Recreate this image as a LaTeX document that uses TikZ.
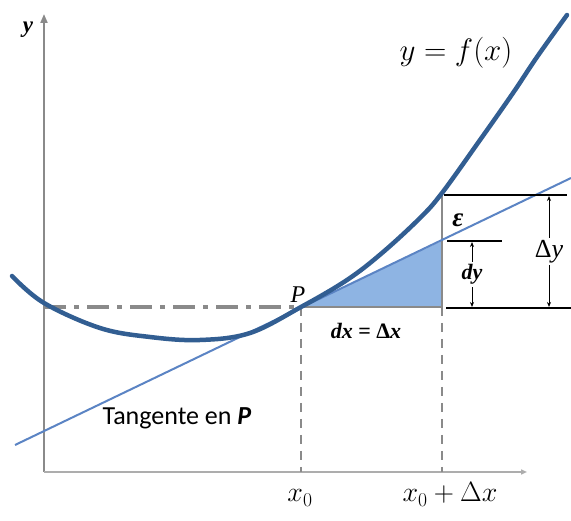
\RequirePackage{fix-cm}
\documentclass[tikz,border=0pt]{standalone}
\usepackage{fontspec}
\setmainfont{Carlito}
\newfontfamily\tnr{Liberation Serif}
\usetikzlibrary{arrows.meta}
\definecolor{curveblue}{HTML}{325E92}
\definecolor{tanblue}{HTML}{5B84C4}
\definecolor{fillblue}{HTML}{8EB4E3}
\definecolor{axisgray}{HTML}{8A8A8A}
\tikzset{
  axisline/.style={draw=axisgray, line width=2pt},
  guide/.style={draw=axisgray, line width=2pt, dash pattern=on 9pt off 7pt},
  dashdot/.style={draw=axisgray, line width=3.5pt, dash pattern=on 22pt off 8pt on 5pt off 8pt},
  blackline/.style={draw=black, line width=2pt},
  dimarrow/.style={draw=black, line width=0.8pt, {Stealth[length=5pt,width=4pt]}-{Stealth[length=5pt,width=4pt]}},
  lbl/.style={inner sep=1pt},
}
\begin{document}
\begin{tikzpicture}[x=1pt,y=-1pt]
\path[use as bounding box, fill=white] (0,0) rectangle (571,521);
% key coordinates
\coordinate (O) at (44,472);
\coordinate (ytop) at (44,14);
\coordinate (xend) at (527,472);
\coordinate (P) at (301,307);
\coordinate (Q) at (442,307);
\coordinate (T) at (442,241);
\coordinate (F) at (442,195);
\coordinate (yleft) at (44,307);
\coordinate (x0b) at (301,472);
\coordinate (x1b) at (442,472);
\coordinate (tanA) at (15,445);
\coordinate (tanB) at (571,178);
% axes
\draw[axisline, -{Triangle[length=9pt,width=7pt]}] (O) -- (ytop);
\draw[draw=axisgray!70, line width=1.5pt, -{Triangle[length=6pt,width=5pt]}] (O) -- (xend);
% guides
\draw[dashdot] (yleft) -- (P);
\draw[guide] (P) -- (x0b);
\draw[guide] (Q) -- (x1b);
% triangle
\fill[fillblue] (P) -- (Q) -- (T) -- cycle;
\draw[axisline, line width=2.5pt] (P) -- (Q);
\draw[axisline, line width=2.5pt] (Q) -- (F);
% tangent
\draw[tanblue, line width=2pt] (tanA) -- (tanB);
% curve
\draw[curveblue, line width=4.5pt, line cap=round] plot[smooth, tension=0.6] coordinates {
 (12,276) (44,303) (100,328) (150,337) (200,340) (250,333) (301,307) (347,280)
 (382,253) (420,218) (442,193) (480,140) (513,93) (537,57) (567,15)};
% black reference lines
\coordinate (l1a) at (444,195); \coordinate (l1b) at (567,195);
\coordinate (l2a) at (447,241); \coordinate (l2b) at (502,241);
\coordinate (l3a) at (446,308); \coordinate (l3b) at (571,308);
\draw[blackline] (l1a) -- (l1b);
\draw[blackline] (l2a) -- (l2b);
\draw[blackline] (l3a) -- (l3b);
\coordinate (dyt) at (472,242); \coordinate (dyb) at (472,307);
\coordinate (Dyt) at (549,196); \coordinate (Dyb) at (549,307);
\draw[dimarrow] (dyt) -- node[lbl, fill=white, inner ysep=2pt] (dylab) {\tnr\fontsize{22}{24}\selectfont\bfseries\itshape dy} (dyb);
\draw[dimarrow] (Dyt) -- node[lbl, fill=white, inner ysep=2pt] (Dylab) {\tnr\fontsize{26}{28}\selectfont Δ\itshape y} (Dyb);
% labels
\node[lbl] (ylab) at (28,30) {\tnr\fontsize{23}{25}\selectfont\bfseries\itshape y};
\node[lbl] (flab) at (456,53) {\fontsize{31}{36}\selectfont $y=f(x)$};
\node[lbl] (eps) at (458,220) {\tnr\fontsize{27}{29}\selectfont\bfseries\itshape ε};
\node[lbl] (Plab) at (298,295) {\tnr\fontsize{24}{26}\selectfont\itshape P};
\node[lbl] (dxlab) at (366,331) {\tnr\fontsize{22}{24}\selectfont\bfseries\itshape dx {\upshape =} {\upshape Δ}x};
\node[lbl, anchor=base] (tanlab) at (177,425) {\fontsize{26}{28}\selectfont Tangente en \textbf{\textit{P}}};
\node[lbl, anchor=base] (x0lab) at (300,502) {\fontsize{28}{30}\selectfont $x_0$};
\node[lbl, anchor=base] (x1lab) at (450,502) {\fontsize{28}{30}\selectfont $x_0+\Delta x$};
\end{tikzpicture}
\end{document}
